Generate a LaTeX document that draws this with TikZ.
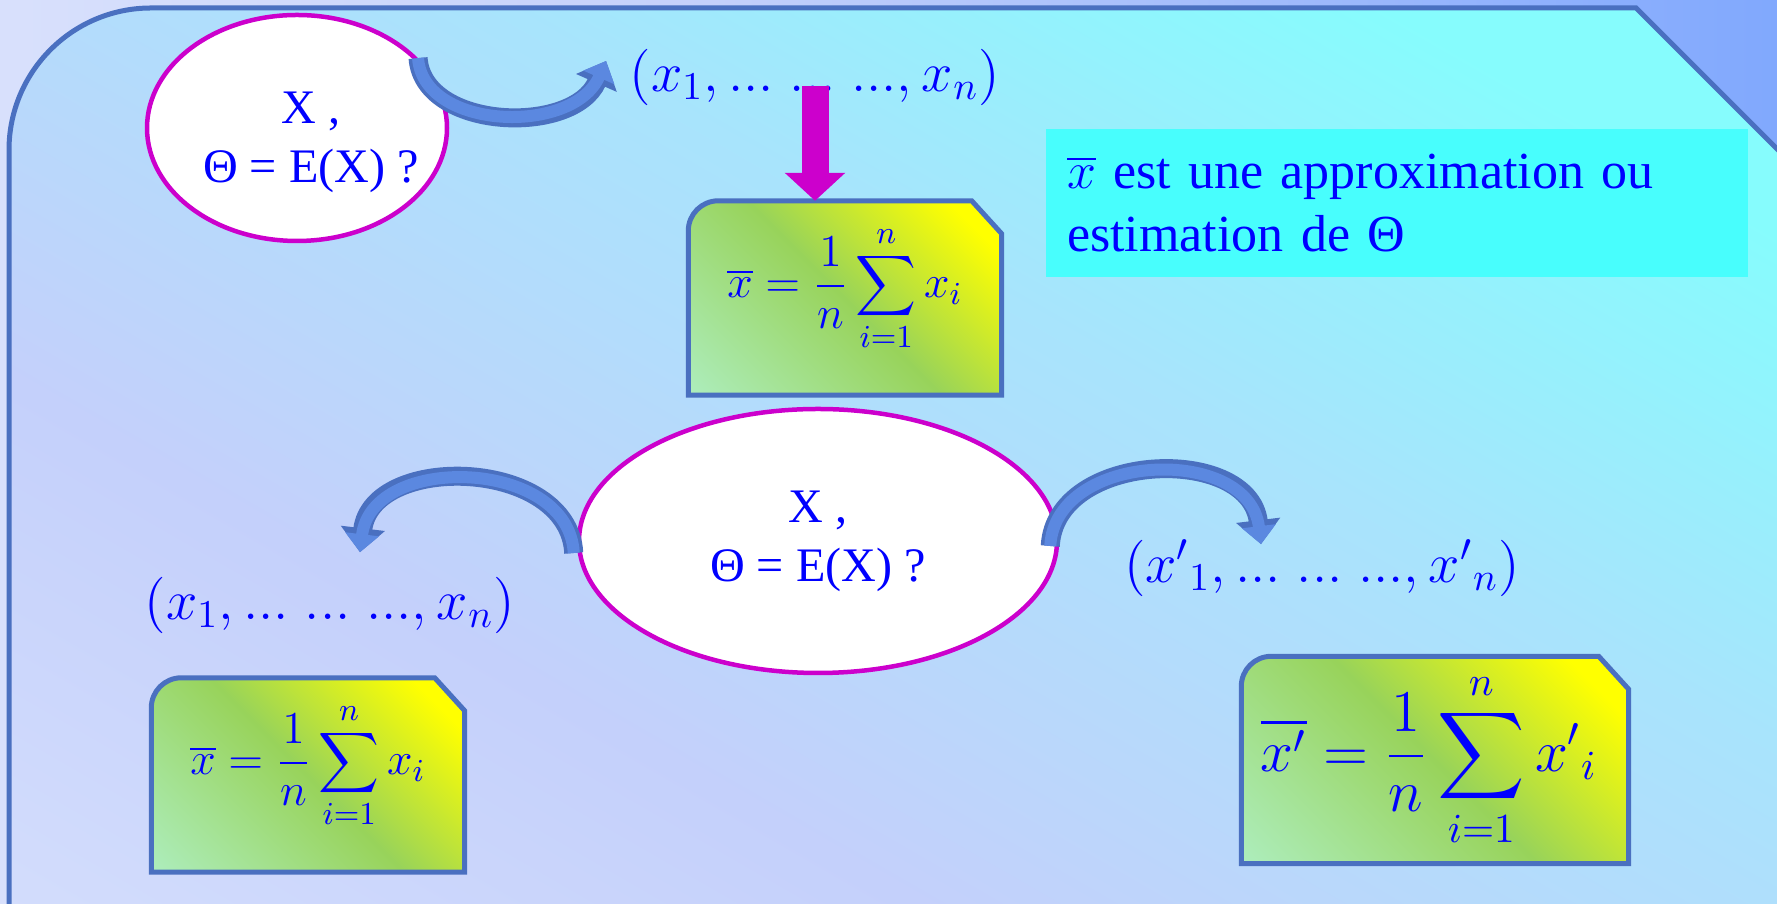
\RequirePackage{fix-cm}
\documentclass[tikz,border=0pt]{standalone}
\usepackage[no-math]{fontspec}
\setmainfont{Liberation Serif}
\usepackage{amsmath}
\usetikzlibrary{arrows.meta,shapes.geometric}
\definecolor{Fond}{HTML}{6A9BFE}
\definecolor{FondClair}{HTML}{F2F5FE}
\definecolor{Bord}{HTML}{4A70C0}
\definecolor{Cyan}{HTML}{48FEFD}
\definecolor{Lavande}{HTML}{C4D0FB}
\definecolor{Pale}{HTML}{E0E8FD}
\definecolor{Ciel}{HTML}{86FCFD}
\definecolor{Magenta}{HTML}{CC00CC}
\definecolor{Encre}{HTML}{0000FF}
\definecolor{Fleche}{HTML}{5B88E0}
\definecolor{Menthe}{HTML}{B6F8E6}
\definecolor{Vert}{HTML}{98D35A}
\definecolor{Jaune}{HTML}{FFFF00}
\pgfdeclarehorizontalshading{arriere}{100bp}{color(0bp)=(FondClair); color(45bp)=(Lavande); color(85bp)=(Fond); color(100bp)=(Fond)}
\pgfdeclarehorizontalshading{panneau}{100bp}{color(0bp)=(Pale); color(35bp)=(Lavande); color(58bp)=(Ciel!45!Lavande); color(76bp)=(Ciel); color(100bp)=(Ciel)}
\pgfdeclarehorizontalshading{degrade}{100bp}{color(0bp)=(Menthe); color(50bp)=(Vert); color(78bp)=(Jaune); color(100bp)=(Jaune)}
% trois points
\newcommand{\pts}{{...}}

\begin{document}
\begin{tikzpicture}[x=0.1mm,y=-0.1mm,
    bulle/.style={ellipse,draw=Magenta,line width=0.45mm,fill=white,inner sep=0pt},
    question/.style={text=Encre,font=\fontsize{13.7}{16.8}\selectfont,align=center,inner sep=0pt},
    suite/.style={text=Encre,font=\fontsize{16}{19}\selectfont,inner sep=0pt},
    boite/.style={inner sep=0pt,minimum width=31.2mm,minimum height=19.3mm},
    calcul/.style={text=Encre,font=\fontsize{13}{16}\selectfont,inner sep=0pt},
    encart/.style={fill=Cyan,text=Encre,align=left,text width=66mm,inner sep=2.1mm,
      minimum height=14.8mm,font=\fontsize{14.8}{17.9}\selectfont},
    fleche/.style={line width=1.2mm,draw=Fleche,-{Triangle[width=3.3mm,length=1.8mm]},
      preaction={draw=Bord,line width=1.9mm,-{Triangle[width=4.3mm,length=2.4mm]}}},
    descente/.style={line width=2.7mm,draw=Magenta,-{Triangle[width=5.9mm,length=2.8mm]}}
]
\useasboundingbox (0,0) rectangle (1777,904);
% fond et panneau
\shade[shading=arriere] (0,0) rectangle (1777,904);
\shadedraw[shading=panneau,shading angle=60,draw=Bord,line width=0.5mm]
  (9,930) -- (9,150) arc[start angle=180,end angle=90,radius=14.2mm]
  -- (1636,8) -- (1800,172) -- (1800,930);

\node[encart] (t1) at (1397,203) {$\overline{x}$ est une approximation ou\\estimation de Θ};

\node[bulle,minimum width=30mm,minimum height=22.6mm] (e1) at (297,128) {};
\node[question] (q1) at ([shift={(1.4mm,-1.4mm)}]e1.center) {X ,\\Θ = E(X) ?};
\node[bulle,minimum width=47.8mm,minimum height=26.4mm] (e2) at (818,541) {};
\node[question] (q2) at (e2.center) {X ,\\Θ = E(X) ?};

\node[suite] (x1) at (815,77) {$(x_1,\pts\;\pts\;\pts,x_n)$};
\node[suite] (x2) at (330,605) {$(x_1,\pts\;\pts\;\pts,x_n)$};
\node[suite] (x3) at (1322,568) {$({x'}_1,\pts\;\pts\;\pts,{x'}_n)$};

\node[boite] (b1) at (845,298) {};
\node[boite] (b2) at (308,775) {};
\node[boite,minimum width=38.6mm,minimum height=20.6mm] (b3) at (1435,760) {};
\foreach \b in {b1,b2,b3}
  \shadedraw[shading=degrade,shading angle=45,draw=Bord,line width=0.5mm]
    (\b.south west) -- ([yshift=-3mm]\b.north west)
    arc[start angle=180,end angle=90,radius=3mm]
    -- ([xshift=-3mm]\b.north east) -- ([yshift=-3.3mm]\b.north east)
    -- (\b.south east) -- cycle;
\node[calcul] (f1) at ([yshift=0.9mm]b1.center) {$\displaystyle\overline{x} = \frac{1}{n}\sum_{i=1}^{n} x_i$};
\node[calcul] (f2) at ([yshift=0.9mm]b2.center) {$\displaystyle\overline{x} = \frac{1}{n}\sum_{i=1}^{n} x_i$};
\node[calcul,font=\fontsize{16.8}{19}\selectfont] (f3) at ([xshift=-0.6mm]b3.center) {$\displaystyle\overline{x'} = \frac{1}{n}\sum_{i=1}^{n} {x'}_i$};

% fleches
\coordinate (a1) at ([shift={(-2.3mm,1.6mm)}]x1.west);
\coordinate (a2) at ([shift={(3mm,2.4mm)}]x2.north);
\coordinate (a3) at ([shift={(-6.1mm,-0.5mm)}]x3.north);
\draw[fleche] (e1.30) .. controls +(0.5mm,-7.2mm) and +(-3.3mm,-7.5mm) .. (a1);
\draw[fleche] ([shift={(-0.3mm,-1.2mm)}]e2.west) .. controls +(-0.5mm,9.5mm) and +(1.2mm,10mm) .. (a2);
\draw[fleche] ([shift={(-0.9mm,-0.5mm)}]e2.east) .. controls +(0.5mm,9.5mm) and +(-1.2mm,10mm) .. (a3);
\draw[descente] ([yshift=2mm]x1.south) -- (x1.south |- b1.north);
\end{tikzpicture}
\end{document}
